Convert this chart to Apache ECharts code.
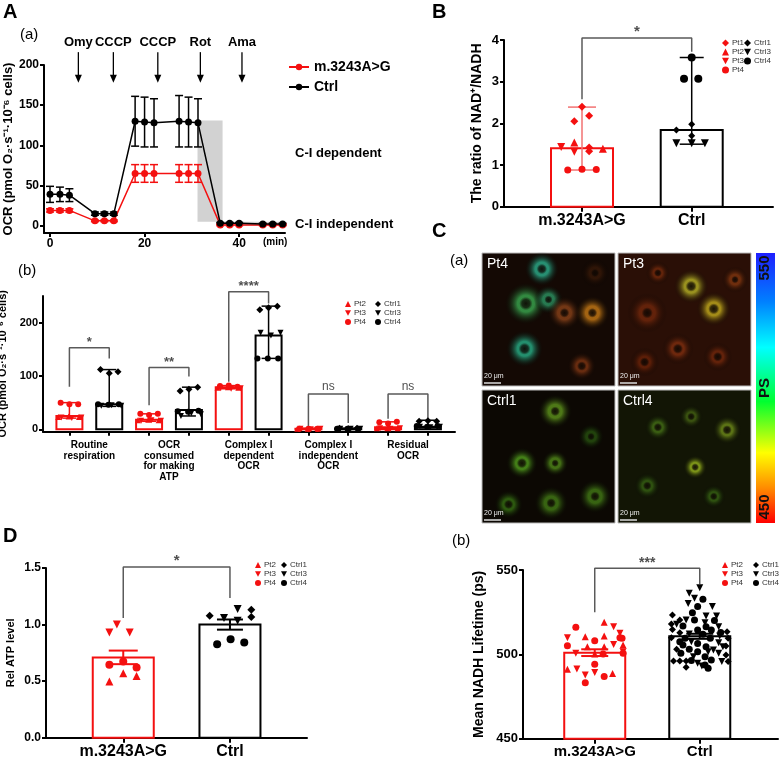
<!DOCTYPE html>
<html>
<head>
<meta charset="utf-8">
<script src="https://cdn.jsdelivr.net/npm/echarts@6/dist/echarts.min.js"></script>
<style>
  html, body { margin: 0; padding: 0; background: #fff; }
  #main { width: 782px; height: 761px; }
</style>
</head>
<body>
<div id="main"></div>
<script>
var FONT = 'Liberation Sans, Arial, Helvetica, sans-serif';
var RED = '#f41010';
var BLACK = '#000';
var TRI_DOWN = 'path://M0,0L10,0L5,9Z';

// ---------- A(a) OCR trace ----------
var ocrTime = [0, 2.1, 4.1, 9.5, 11.5, 13.5, 18, 20, 22, 27.3, 29.3, 31.3, 36, 38, 40, 45, 47.1, 49.2];
var ocrMut = [19, 19, 19, 6, 6, 6, 65, 65, 65, 65, 65, 65, 1, 1, 1, 1, 1, 1];
var ocrMutErr = [2, 2, 2, 1, 1, 1, 11, 11, 11, 11, 11, 11, 1, 1, 1, 1, 1, 1];
var ocrCtrl = [39, 39, 38, 15, 15, 15, 130, 129, 128, 130, 129, 128, 3, 3, 3, 2, 2, 2];
var ocrCtrlErr = [10, 9, 8, 2, 2, 2, 31, 31, 30, 32, 31, 30, 1, 1, 1, 1, 1, 1];
var injectNames = ['Omy', 'CCCP', 'CCCP', 'Rot', 'Ama'];
var injectTimes = [6, 13.4, 22.8, 31.8, 40.6];
var injectFrom = 216, injectTo = 178;
var shadeAreas = [[31.2, 5, 36.5, 131], [36.5, 0, 49.7, 5]];

// ---------- A(b) OCR parameters ----------
var ocrCats = ['Routine\nrespiration', 'OCR\nconsumed\nfor making\nATP', 'Complex I\ndependent\nOCR', 'Complex I\nindependent\nOCR', 'Residual\nOCR'];
var ocrMedMut = [25, 18, 79, 1, 4];
var ocrMedCtrl = [47, 36, 176, 1, 5];
var ocrRangeMut = [[21, 50], [15, 29], [76, 82], [0, 2], [1, 14]];
var ocrRangeCtrl = [[43, 112], [25, 79], [133, 231], [0, 2], [3, 17]];
var ocrPt2 = [[23, 24, 23], [17, 18, 17], [78, 79, 78], [1, 1, 1], [2, 2, 2]];
var ocrPt3 = [[22, 21, 22], [16, 17, 16], [77, 76, 77], [1, 0, 1], [2, 1, 2]];
var ocrPt4 = [[50, 47, 47], [29, 27, 29], [81, 82, 80], [1, 1, 1], [13, 11, 14]];
var ocrCtrl1 = [[112, 105, 108], [72, 75, 79], [224, 228, 231], [2, 1, 2], [15, 16, 15]];
var ocrCtrl3 = [[44, 45, 44], [25, 30, 28], [181, 176, 181], [1, 1, 1], [5, 4, 5]];
var ocrCtrl4 = [[47, 46, 47], [34, 33, 35], [133, 133, 133], [1, 1, 1], [6, 5, 6]];
var jitA = [-0.28, -0.02, 0.24];
var jitB = [-0.2, 0.06, 0.3];
var jitC = [-0.22, 0, 0.22];
var ocrSig = ['*', '**', '****', 'ns', 'ns'];
var ocrSigLeft = [80, 45, 89, 5, 20];
var ocrSigTop = [153, 116, 258, 66, 66];
var ocrSigRight = [133, 99, 236, 12, 20];

// ---------- B NAD+/NADH ----------
var groups = ['m.3243A>G', 'Ctrl'];
var nadMed = [1.40, 1.84];
var nadRange = [[0.88, 2.39], [1.50, 3.58]];
var nadPt1 = [[-0.07, 2.05], [0, 2.40], [0.065, 2.18], [0.065, 1.42], [0.065, 1.33]];
var nadPt2 = [[-0.07, 1.54], [0.19, 1.39]];
var nadPt3 = [[-0.19, 1.43], [-0.07, 1.32]];
var nadPt4 = [[-0.13, 0.88], [0, 0.90], [0.13, 0.89]];
var nadCtrl1 = [[-0.14, 1.84], [0, 1.98], [0, 1.70]];
var nadCtrl3 = [[-0.14, 1.52], [0, 1.52], [0.12, 1.52]];
var nadCtrl4 = [[0, 3.58], [-0.07, 3.07], [0.06, 3.07]];
var nadSig = [2.58, 4.05, 3.72];

// ---------- C(b) NADH lifetime ----------
var lifeMean = [501, 510.7];
var lifeSem = [2, 1.5];
var lifePt2 = [[0.09, 519], [-0.09, 510.5], [0.09, 510.9], [-0.07, 504.5], [0.09, 504.5], [0, 500.2], [-0.26, 491.1], [0.17, 488.7], [0.27, 505.5]];
var lifePt3 = [[-0.26, 509.9], [0.18, 516.4], [0.24, 512.5], [-0.17, 491.3], [0, 489.3], [-0.09, 487.7], [0.27, 501.6], [0.18, 505.9], [-0.18, 500.6]];
var lifePt4 = [[-0.18, 516], [-0.26, 505.1], [0, 508.1], [0.26, 509.5], [0, 494.1], [-0.09, 483.2], [0.09, 486.8], [0.08, 500.2], [0.27, 500.6], [0.24, 509.9]];
var lifeCtrl1 = [[-0.26, 523.3], [-0.19, 520.4], [-0.26, 514.8], [0.26, 513.4], [-0.19, 512.8], [-0.27, 509.9], [0.27, 509.5], [-0.22, 503], [0.25, 499.6], [-0.25, 496], [-0.19, 496], [-0.13, 496], [0.27, 495.7], [-0.13, 492.3], [-0.27, 518], [0.25, 505]];
var lifeCtrl3 = [[0, 539.5], [-0.1, 536.2], [-0.05, 533.2], [0.12, 528.3], [-0.11, 530.2], [0.06, 522.7], [0.16, 522.7], [-0.13, 520.4], [0.05, 518.8], [-0.22, 517.8], [0.18, 516.4], [-0.1, 512.1], [0.19, 510.9], [-0.08, 507.5], [0.18, 506.9], [0.22, 504.5], [0.13, 502.6], [0.08, 501.6], [0.18, 500.6], [-0.06, 498.6], [0.21, 495.7], [-0.02, 494.7], [0.02, 493.1]];
var lifeCtrl4 = [[0.03, 532.6], [-0.02, 528.3], [-0.07, 524.7], [-0.05, 520.4], [-0.16, 516.8], [0.06, 516.4], [-0.02, 514.4], [0.11, 514.4], [0.03, 511.9], [-0.14, 509.5], [0.1, 509.5], [-0.19, 507.5], [-0.02, 506.5], [-0.16, 505.5], [0.06, 504.5], [-0.1, 503], [-0.02, 501.6], [-0.18, 500.6], [0.05, 498.6], [0.11, 496.6], [0.05, 493.7], [0.08, 491.7], [0.14, 520], [-0.08, 496.4], [0.2, 513]];
var lifeSig = [525, 551, 541.5];

// ---------- D ATP ----------
var atpMean = [0.71, 1.0];
var atpSem = [0.06, 0.045];
var atpPt2 = [[-0.13, 0.496], [0, 0.57], [0.125, 0.546]];
var atpPt3 = [[-0.06, 1.0], [-0.13, 0.93], [0.06, 0.93]];
var atpPt4 = [[-0.13, 0.644], [0, 0.673], [0.125, 0.62]];
var atpCtrl1 = [[-0.19, 1.078], [0.2, 1.13], [0.2, 1.066]];
var atpCtrl3 = [[-0.056, 1.057], [0.072, 1.137], [0.072, 1.033]];
var atpCtrl4 = [[-0.12, 0.827], [0.006, 0.871], [0.134, 0.841]];
var atpSig = [1.057, 1.509, 1.234];

var chart = echarts.init(document.getElementById('main'), null, { renderer: 'canvas' });

// ---------- helpers ----------
function axisBase(extra) {
  var a = {
    axisLine: { show: true, onZero: false, lineStyle: { color: BLACK, width: 2 } },
    axisTick: { show: true, length: 4, lineStyle: { color: BLACK, width: 2 } },
    axisLabel: { color: BLACK, fontFamily: FONT, fontWeight: 'bold', fontSize: 12, margin: 5 },
    splitLine: { show: false }
  };
  for (var k in extra) {
    if (typeof extra[k] === 'object' && a[k] && !Array.isArray(extra[k])) {
      for (var j in extra[k]) a[k][j] = extra[k][j];
    } else {
      a[k] = extra[k];
    }
  }
  return a;
}

function groupLabels(v) {
  return groups[Math.round(v)] || '';
}

function scatter(gi, name, symbol, color, size, data) {
  return {
    type: 'scatter', name: name, xAxisIndex: gi, yAxisIndex: gi,
    symbol: symbol, symbolSize: size, itemStyle: { color: color, opacity: 1 },
    data: data, z: 6, silent: true
  };
}

function shifted(list, base) {
  return list.map(function (p) { return [base + p[0], p[1]]; });
}

function errSeries(gi, color, cap, width, data) {
  return {
    type: 'custom', xAxisIndex: gi, yAxisIndex: gi, z: 5, data: data, silent: true,
    renderItem: function (params, api) {
      var lo = api.coord([api.value(0), api.value(1)]);
      var hi = api.coord([api.value(0), api.value(2)]);
      var h = cap / 2;
      var s = { stroke: color, lineWidth: width };
      return {
        type: 'group', children: [
          { type: 'line', shape: { x1: lo[0], y1: lo[1], x2: hi[0], y2: hi[1] }, style: s },
          { type: 'line', shape: { x1: hi[0] - h, y1: hi[1], x2: hi[0] + h, y2: hi[1] }, style: s },
          { type: 'line', shape: { x1: lo[0] - h, y1: lo[1], x2: lo[0] + h, y2: lo[1] }, style: s }
        ]
      };
    }
  };
}

function barSeries(gi, color, width, base, data) {
  return {
    type: 'custom', xAxisIndex: gi, yAxisIndex: gi, z: 3, data: data, silent: true,
    renderItem: function (params, api) {
      var p0 = api.coord([api.value(0), base]);
      var p1 = api.coord([api.value(0), api.value(1)]);
      return {
        type: 'rect',
        shape: { x: p0[0] - width / 2, y: p1[1], width: width, height: p0[1] - p1[1] },
        style: { fill: '#fff', stroke: color, lineWidth: 2 }
      };
    }
  };
}

function bracket(gi, x0, x1, yl, yt, yr, text, fontSize, weight) {
  return [{
    type: 'line', xAxisIndex: gi, yAxisIndex: gi, z: 4, clip: false, silent: true,
    symbol: 'none', lineStyle: { color: '#5a5a5a', width: 1.5 },
    data: [[x0, yl], [x0, yt], [x1, yt], [x1, yr]]
  }, {
    type: 'scatter', xAxisIndex: gi, yAxisIndex: gi, z: 4, clip: false, silent: true,
    symbolSize: 1, itemStyle: { color: 'rgba(0,0,0,0)' },
    label: {
      show: true, position: 'top', distance: text === 'ns' ? 1 : -2, formatter: text,
      color: '#222', fontFamily: FONT, fontSize: fontSize, fontWeight: weight
    },
    data: [[(x0 + x1) / 2, yt]]
  }];
}

function smallLegend(names, left, top, size, gap) {
  return {
    data: names, orient: 'vertical', left: left, top: top, padding: 0,
    itemWidth: size, itemHeight: size, itemGap: gap, selectedMode: false,
    textStyle: { fontFamily: FONT, fontSize: 8, color: '#333', lineHeight: size + 1, padding: [0, 0, 0, -2] }
  };
}

// ---------- grids and axes ----------
var grids = [
  { left: 44, top: 65, width: 241, height: 168 },
  { left: 43, top: 296, width: 412, height: 135.7 },
  { left: 504, top: 40, width: 269, height: 166.7 },
  { left: 523, top: 570, width: 255, height: 168.7 },
  { left: 46, top: 568, width: 261, height: 169.7 }
].map(function (g) { g.containLabel = false; g.outerBoundsMode = 'none'; return g; });

var xAxes = [
  axisBase({ type: 'value', gridIndex: 0, min: -1.27, max: 49.7,
    axisTick: { customValues: [0, 20, 40] },
    axisLabel: { customValues: [0, 20, 40], fontSize: 12, margin: 5 } }),
  axisBase({ type: 'value', gridIndex: 1, min: -0.663, max: 9.68,
    axisTick: { customValues: [0, 1, 2, 3, 4, 5, 6, 7, 8, 9], length: 4 },
    axisLabel: { customValues: [0.5, 2.5, 4.5, 6.5, 8.5], fontSize: 10, lineHeight: 10.7, margin: 8,
      formatter: function (v) { return ocrCats[Math.round((v - 0.5) / 2)]; } } }),
  axisBase({ type: 'value', gridIndex: 2, min: -0.711, max: 1.741,
    axisTick: { customValues: [0, 1], length: 5 },
    axisLabel: { customValues: [0, 1], fontSize: 16, margin: 6, formatter: groupLabels } }),
  axisBase({ type: 'value', gridIndex: 3, min: -0.683, max: 1.745,
    axisTick: { customValues: [0, 1], length: 5 },
    axisLabel: { customValues: [0, 1], fontSize: 15, margin: 6, formatter: groupLabels } }),
  axisBase({ type: 'value', gridIndex: 4, min: -0.724, max: 1.722,
    axisTick: { customValues: [0, 1], length: 5 },
    axisLabel: { customValues: [0, 1], fontSize: 16, margin: 6, formatter: groupLabels } })
];

var yNameStyle = { color: BLACK, fontFamily: FONT, fontWeight: 'bold' };
function yName(size) {
  var s = {}; for (var k in yNameStyle) s[k] = yNameStyle[k]; s.fontSize = size; return s;
}
var ocrUnit = 'OCR (pmol O\u2082\u00b7s\u207b\u00b9\u00b710\u207b\u2076 cells)';

var yAxes = [
  axisBase({ type: 'value', gridIndex: 0, min: -9.1, max: 200,
    axisTick: { customValues: [0, 50, 100, 150, 200] },
    axisLabel: { customValues: [0, 50, 100, 150, 200], fontSize: 12 },
    name: ocrUnit, nameLocation: 'middle', nameGap: 28, nameTextStyle: yName(13) }),
  axisBase({ type: 'value', gridIndex: 1, min: -4.5, max: 250,
    axisTick: { customValues: [0, 100, 200] },
    axisLabel: { customValues: [0, 100, 200], fontSize: 11 },
    name: ocrUnit, nameLocation: 'middle', nameGap: 29, nameTextStyle: yName(11) }),
  axisBase({ type: 'value', gridIndex: 2, min: 0, max: 4, interval: 1,
    axisLabel: { fontSize: 13 },
    name: 'The ratio of NAD\u207a/NADH', nameLocation: 'middle', nameGap: 20, nameTextStyle: yName(14) }),
  axisBase({ type: 'value', gridIndex: 3, min: 450, max: 550, interval: 50,
    axisLabel: { fontSize: 13 },
    name: 'Mean NADH Lifetime (ps)', nameLocation: 'middle', nameGap: 37, nameTextStyle: yName(14) }),
  axisBase({ type: 'value', gridIndex: 4, min: 0, max: 1.5, interval: 0.5,
    axisLabel: { fontSize: 12, formatter: function (v) { return v.toFixed(1); } },
    name: 'Rel ATP level', nameLocation: 'middle', nameGap: 30, nameTextStyle: yName(11) })
];

// ---------- series ----------
var series = [];

// A(a)
series.push({
  type: 'custom', xAxisIndex: 0, yAxisIndex: 0, z: 1, silent: true, data: shadeAreas,
  renderItem: function (params, api) {
    var a = api.coord([api.value(0), api.value(1)]);
    var b = api.coord([api.value(2), api.value(3)]);
    return { type: 'rect', shape: { x: a[0], y: b[1], width: b[0] - a[0], height: a[1] - b[1] },
      style: { fill: '#d2d2d2' } };
  }
});
series.push(errSeries(0, BLACK, 8, 1.5, ocrTime.map(function (t, i) { return [t, ocrCtrl[i] - ocrCtrlErr[i], ocrCtrl[i] + ocrCtrlErr[i]]; })));
series.push(errSeries(0, RED, 8, 1.5, ocrTime.map(function (t, i) { return [t, ocrMut[i] - ocrMutErr[i], ocrMut[i] + ocrMutErr[i]]; })));
series.push({
  type: 'line', name: 'm.3243A>G', xAxisIndex: 0, yAxisIndex: 0, z: 6,
  symbol: 'circle', symbolSize: 7, color: RED, lineStyle: { width: 1.5, color: RED },
  itemStyle: { color: RED }, data: ocrTime.map(function (t, i) { return [t, ocrMut[i]]; })
});
series.push({
  type: 'line', name: 'Ctrl', xAxisIndex: 0, yAxisIndex: 0, z: 7,
  symbol: 'circle', symbolSize: 7, color: BLACK, lineStyle: { width: 1.5, color: BLACK },
  itemStyle: { color: BLACK }, data: ocrTime.map(function (t, i) { return [t, ocrCtrl[i]]; })
});
series.push({
  type: 'custom', xAxisIndex: 0, yAxisIndex: 0, z: 2, clip: false, silent: true,
  data: injectTimes.map(function (t) { return [t, injectFrom, injectTo]; }),
  renderItem: function (params, api) {
    var top = api.coord([api.value(0), api.value(1)]);
    var bot = api.coord([api.value(0), api.value(2)]);
    return {
      type: 'group', children: [
        { type: 'line', shape: { x1: top[0], y1: top[1], x2: bot[0], y2: bot[1] - 6 }, style: { stroke: BLACK, lineWidth: 1.3 } },
        { type: 'polygon', shape: { points: [[bot[0] - 3.5, bot[1] - 8], [bot[0] + 3.5, bot[1] - 8], [bot[0], bot[1]]] }, style: { fill: BLACK } },
        { type: 'text', x: top[0], y: top[1] - 3, style: { text: injectNames[params.dataIndex], align: 'center', verticalAlign: 'bottom',
          textAlign: 'center', textVerticalAlign: 'bottom', font: 'bold 13px ' + FONT, fill: BLACK } }
      ]
    };
  }
});

// A(b)
series.push(barSeries(1, RED, 26, 0, ocrMedMut.map(function (v, c) { return [2 * c, v]; })));
series.push(barSeries(1, BLACK, 26, 0, ocrMedCtrl.map(function (v, c) { return [2 * c + 1, v]; })));
series.push(errSeries(1, RED, 14, 1.5, ocrRangeMut.map(function (r, c) { return [2 * c, r[0], r[1]]; })));
series.push(errSeries(1, BLACK, 14, 1.5, ocrRangeCtrl.map(function (r, c) { return [2 * c + 1, r[0], r[1]]; })));
function ocrPoints(list, jit, off) {
  var out = [];
  list.forEach(function (vals, c) { vals.forEach(function (v, k) { out.push([2 * c + off + jit[k], v]); }); });
  return out;
}
series.push(scatter(1, 'Pt2', 'triangle', RED, 6, ocrPoints(ocrPt2, jitA, 0)));
series.push(scatter(1, 'Pt3', TRI_DOWN, RED, 6, ocrPoints(ocrPt3, jitB, 0)));
series.push(scatter(1, 'Pt4', 'circle', RED, 6, ocrPoints(ocrPt4, jitC, 0)));
series.push(scatter(1, 'Ctrl1', 'diamond', BLACK, 7, ocrPoints(ocrCtrl1, jitC, 1)));
series.push(scatter(1, 'Ctrl3', TRI_DOWN, BLACK, 6, ocrPoints(ocrCtrl3, jitB, 1)));
series.push(scatter(1, 'Ctrl4', 'circle', BLACK, 6, ocrPoints(ocrCtrl4, jitA, 1)));
ocrSig.forEach(function (s, c) {
  var b = bracket(1, 2 * c, 2 * c + 1, ocrSigLeft[c], ocrSigTop[c], ocrSigRight[c], s,
    s === 'ns' ? 12 : 13, s === 'ns' ? 'normal' : 'bold');
  series.push(b[0], b[1]);
});

// B
series.push(barSeries(2, RED, 62, 0, [[0, nadMed[0]]]));
series.push(barSeries(2, BLACK, 62, 0, [[1, nadMed[1]]]));
series.push(errSeries(2, '#f27272', 28, 1.5, [[0, nadRange[0][0], nadRange[0][1]]]));
series.push(errSeries(2, BLACK, 24, 1.5, [[1, nadRange[1][0], nadRange[1][1]]]));
series.push(scatter(2, 'Pt1', 'diamond', RED, 8, shifted(nadPt1, 0)));
series.push(scatter(2, 'Pt2', 'triangle', RED, 8, shifted(nadPt2, 0)));
series.push(scatter(2, 'Pt3', TRI_DOWN, RED, 8, shifted(nadPt3, 0)));
series.push(scatter(2, 'Pt4', 'circle', RED, 7, shifted(nadPt4, 0)));
series.push(scatter(2, 'Ctrl1', 'diamond', BLACK, 7, shifted(nadCtrl1, 1)));
series.push(scatter(2, 'Ctrl3', TRI_DOWN, BLACK, 8, shifted(nadCtrl3, 1)));
series.push(scatter(2, 'Ctrl4', 'circle', BLACK, 8, shifted(nadCtrl4, 1)));
(function () { var b = bracket(2, 0, 1, nadSig[0], nadSig[1], nadSig[2], '*', 15, 'bold'); series.push(b[0], b[1]); })();

// C(b)
series.push(barSeries(3, RED, 61, 450, [[0, lifeMean[0]]]));
series.push(barSeries(3, BLACK, 61, 450, [[1, lifeMean[1]]]));
series.push(scatter(3, 'Pt2', 'triangle', RED, 7, shifted(lifePt2, 0)));
series.push(scatter(3, 'Pt3', TRI_DOWN, RED, 7, shifted(lifePt3, 0)));
series.push(scatter(3, 'Pt4', 'circle', RED, 7, shifted(lifePt4, 0)));
series.push(scatter(3, 'Ctrl1', 'diamond', BLACK, 7, shifted(lifeCtrl1, 1)));
series.push(scatter(3, 'Ctrl3', TRI_DOWN, BLACK, 7, shifted(lifeCtrl3, 1)));
series.push(scatter(3, 'Ctrl4', 'circle', BLACK, 7, shifted(lifeCtrl4, 1)));
(function () {
  var e1 = errSeries(3, RED, 27, 2, [[0, lifeMean[0] - lifeSem[0], lifeMean[0] + lifeSem[0]]]);
  var e2 = errSeries(3, BLACK, 27, 2, [[1, lifeMean[1] - lifeSem[1], lifeMean[1] + lifeSem[1]]]);
  e1.z = 7; e2.z = 7; series.push(e1, e2);
  var b = bracket(3, 0, 1, lifeSig[0], lifeSig[1], lifeSig[2], '***', 14, 'bold'); series.push(b[0], b[1]);
})();

// D
series.push(barSeries(4, RED, 61, 0, [[0, atpMean[0]]]));
series.push(barSeries(4, BLACK, 61, 0, [[1, atpMean[1]]]));
(function () {
  var e1 = errSeries(4, RED, 29, 2, [[0, atpMean[0] - atpSem[0], atpMean[0] + atpSem[0]]]);
  var e2 = errSeries(4, BLACK, 26, 2, [[1, atpMean[1] - atpSem[1], atpMean[1] + atpSem[1]]]);
  e1.z = 7; e2.z = 7; series.push(e1, e2);
})();
series.push(scatter(4, 'Pt2', 'triangle', RED, 8, shifted(atpPt2, 0)));
series.push(scatter(4, 'Pt3', TRI_DOWN, RED, 8, shifted(atpPt3, 0)));
series.push(scatter(4, 'Pt4', 'circle', RED, 8, shifted(atpPt4, 0)));
series.push(scatter(4, 'Ctrl1', 'diamond', BLACK, 8, shifted(atpCtrl1, 1)));
series.push(scatter(4, 'Ctrl3', TRI_DOWN, BLACK, 8, shifted(atpCtrl3, 1)));
series.push(scatter(4, 'Ctrl4', 'circle', BLACK, 8, shifted(atpCtrl4, 1)));
(function () { var b = bracket(4, 0, 1, atpSig[0], atpSig[1], atpSig[2], '*', 15, 'bold'); series.push(b[0], b[1]); })();

// ---------- legends ----------
var legends = [
  { data: ['m.3243A>G', 'Ctrl'], orient: 'vertical', left: 288, top: 59, padding: 0,
    itemWidth: 20, itemHeight: 8, itemGap: 4, selectedMode: false,
    textStyle: { fontFamily: FONT, fontSize: 14, fontWeight: 'bold', color: BLACK, lineHeight: 16 } },
  smallLegend(['Pt2', 'Pt3', 'Pt4'], 345, 300, 6, 1),
  smallLegend(['Ctrl1', 'Ctrl3', 'Ctrl4'], 375, 300, 6, 1),
  smallLegend(['Pt1', 'Pt2', 'Pt3', 'Pt4'], 722, 39, 7, 1),
  smallLegend(['Ctrl1', 'Ctrl3', 'Ctrl4'], 744, 39, 7, 1),
  smallLegend(['Pt2', 'Pt3', 'Pt4'], 722, 561, 6, 1),
  smallLegend(['Ctrl1', 'Ctrl3', 'Ctrl4'], 753, 561, 6, 1),
  smallLegend(['Pt2', 'Pt3', 'Pt4'], 255, 561, 6, 1),
  smallLegend(['Ctrl1', 'Ctrl3', 'Ctrl4'], 281, 561, 6, 1)
];

// ---------- images of panel C(a) (decorative) ----------
function blob(cx, cy, rx, ry, rot, color) {
  return {
    type: 'ellipse', x: cx, y: cy, rotation: rot, shape: { cx: 0, cy: 0, rx: rx, ry: ry }, silent: true,
    style: { fill: new echarts.graphic.RadialGradient(0.5, 0.5, 0.5, [
      { offset: 0, color: color }, { offset: 0.4, color: color }, { offset: 1, color: 'rgba(0,0,0,0)' }]), opacity: 0.7 }
  };
}
function nucleus(cx, cy, rx, ry, rot) {
  return {
    type: 'ellipse', x: cx, y: cy, rotation: rot, shape: { cx: 0, cy: 0, rx: rx, ry: ry }, silent: true,
    style: { fill: new echarts.graphic.RadialGradient(0.5, 0.5, 0.5, [
      { offset: 0, color: 'rgba(12,6,2,0.9)' }, { offset: 0.6, color: 'rgba(12,6,2,0.7)' }, { offset: 1, color: 'rgba(12,6,2,0)' }]) }
  };
}
function micro(x, y, bg, label, cells) {
  var S = 133;
  var kids = [{ type: 'rect', shape: { x: 0, y: 0, width: S, height: S }, style: { fill: bg, stroke: '#bbb', lineWidth: 1 } }];
  cells.forEach(function (c) {
    kids.push(blob(c[0] * S, c[1] * S, c[2] * S, c[3] * S, c[4], c[5]));
    kids.push(nucleus(c[0] * S, c[1] * S, c[2] * S * 0.28, c[3] * S * 0.32, c[4]));
  });
  kids.push({ type: 'text', x: 5, y: 4, style: { text: label, font: '14px ' + FONT, fill: '#fff' } });
  kids.push({ type: 'text', x: 2, y: 120, style: { text: '20 \u03bcm', font: '7px ' + FONT, fill: '#eee' } });
  kids.push({ type: 'line', shape: { x1: 2, y1: 130, x2: 19, y2: 130 }, style: { stroke: '#ddd', lineWidth: 1.5 } });
  return { type: 'group', x: x, y: y, silent: true, children: kids };
}

var graphics = [
  { type: 'text', left: 3, top: 2, style: { text: 'A', font: 'bold 20px ' + FONT, fill: BLACK } },
  { type: 'text', left: 20, top: 27, style: { text: '(a)', font: '15px ' + FONT, fill: BLACK } },
  { type: 'text', left: 18, top: 263, style: { text: '(b)', font: '15px ' + FONT, fill: BLACK } },
  { type: 'text', left: 432, top: 2, style: { text: 'B', font: 'bold 20px ' + FONT, fill: BLACK } },
  { type: 'text', left: 432, top: 221, style: { text: 'C', font: 'bold 20px ' + FONT, fill: BLACK } },
  { type: 'text', left: 450, top: 253, style: { text: '(a)', font: '15px ' + FONT, fill: BLACK } },
  { type: 'text', left: 452, top: 533, style: { text: '(b)', font: '15px ' + FONT, fill: BLACK } },
  { type: 'text', left: 3, top: 526, style: { text: 'D', font: 'bold 20px ' + FONT, fill: BLACK } },
  { type: 'text', left: 263, top: 237, style: { text: '(min)', font: 'bold 10px ' + FONT, fill: BLACK } },
  { type: 'text', left: 295, top: 147, style: { text: 'C-I dependent', font: 'bold 13px ' + FONT, fill: BLACK } },
  { type: 'text', left: 295, top: 218, style: { text: 'C-I independent', font: 'bold 13px ' + FONT, fill: BLACK } },
  micro(482, 253, '#140904', 'Pt4', [
    [0.45, 0.12, 0.14, 0.13, 0.3, '#2fc7a0'], [0.33, 0.38, 0.18, 0.16, 0.5, '#3fbf5a'],
    [0.5, 0.35, 0.11, 0.15, 0.0, '#2fa870'], [0.32, 0.72, 0.17, 0.14, 0.3, '#2ac79a'],
    [0.62, 0.45, 0.13, 0.18, -0.2, '#9a4a1c'], [0.83, 0.45, 0.13, 0.19, -0.3, '#e08a18'],
    [0.75, 0.85, 0.15, 0.11, 0.2, '#8a3a14'], [0.85, 0.15, 0.11, 0.11, 0, '#3a1a08']
  ]),
  micro(618, 253, '#2a0f06', 'Pt3', [
    [0.55, 0.25, 0.15, 0.13, -0.3, '#c8c82a'], [0.72, 0.42, 0.15, 0.13, -0.2, '#d6c020'],
    [0.22, 0.45, 0.15, 0.18, 0.2, '#7a2a0c'], [0.45, 0.72, 0.18, 0.12, 0.1, '#8a3210'],
    [0.75, 0.78, 0.18, 0.11, 0.0, '#7a2a0c'], [0.2, 0.82, 0.14, 0.11, 0.3, '#702408'],
    [0.88, 0.2, 0.1, 0.14, 0, '#8a3a10'], [0.3, 0.15, 0.13, 0.09, -0.4, '#7a2c0c']
  ]),
  micro(482, 390, '#0c0803', 'Ctrl1', [
    [0.55, 0.16, 0.13, 0.14, 0.2, '#6aa820'], [0.3, 0.55, 0.16, 0.12, 0.1, '#5ab020'],
    [0.55, 0.55, 0.1, 0.15, 0.0, '#5a9a1c'], [0.2, 0.86, 0.13, 0.11, 0.2, '#3a7a14'],
    [0.52, 0.85, 0.13, 0.13, 0.0, '#4a8a18'], [0.85, 0.8, 0.13, 0.16, 0.1, '#4a8a18'],
    [0.82, 0.35, 0.1, 0.17, -0.1, '#2a5a10']
  ]),
  micro(618, 390, '#121505', 'Ctrl4', [
    [0.3, 0.28, 0.19, 0.1, 0.6, '#4a7a18'], [0.58, 0.58, 0.2, 0.09, -0.9, '#a8c820'],
    [0.82, 0.3, 0.13, 0.11, -0.6, '#7a9a1c'], [0.72, 0.8, 0.17, 0.09, 0.6, '#3a6a14'],
    [0.22, 0.72, 0.16, 0.1, 0.5, '#3a6a14'], [0.55, 0.2, 0.11, 0.09, 0, '#4a6a14']
  ]),
  { type: 'rect', shape: { x: 756, y: 253, width: 19, height: 270 }, silent: true,
    style: { fill: new echarts.graphic.LinearGradient(0, 0, 0, 1, [
      { offset: 0, color: '#1f1fff' }, { offset: 0.18, color: '#0080ff' }, { offset: 0.35, color: '#00ffff' },
      { offset: 0.55, color: '#00ff30' }, { offset: 0.74, color: '#ffff00' }, { offset: 0.87, color: '#ff8c00' },
      { offset: 1, color: '#ff0000' }]) } },
  { type: 'text', x: 772, y: 268, rotation: Math.PI / 2, silent: true,
    style: { text: '550', font: 'bold 15px ' + FONT, fill: '#111', align: 'center', verticalAlign: 'bottom', textAlign: 'center', textVerticalAlign: 'bottom' } },
  { type: 'text', x: 772, y: 388, rotation: Math.PI / 2, silent: true,
    style: { text: 'PS', font: 'bold 15px ' + FONT, fill: '#111', align: 'center', verticalAlign: 'bottom', textAlign: 'center', textVerticalAlign: 'bottom' } },
  { type: 'text', x: 772, y: 507, rotation: Math.PI / 2, silent: true,
    style: { text: '450', font: 'bold 15px ' + FONT, fill: '#111', align: 'center', verticalAlign: 'bottom', textAlign: 'center', textVerticalAlign: 'bottom' } }
];

chart.setOption({
  backgroundColor: '#fff',
  animation: false,
  textStyle: { fontFamily: FONT },
  grid: grids,
  xAxis: xAxes,
  yAxis: yAxes,
  legend: legends,
  graphic: graphics,
  series: series
});
</script>
</body>
</html>
